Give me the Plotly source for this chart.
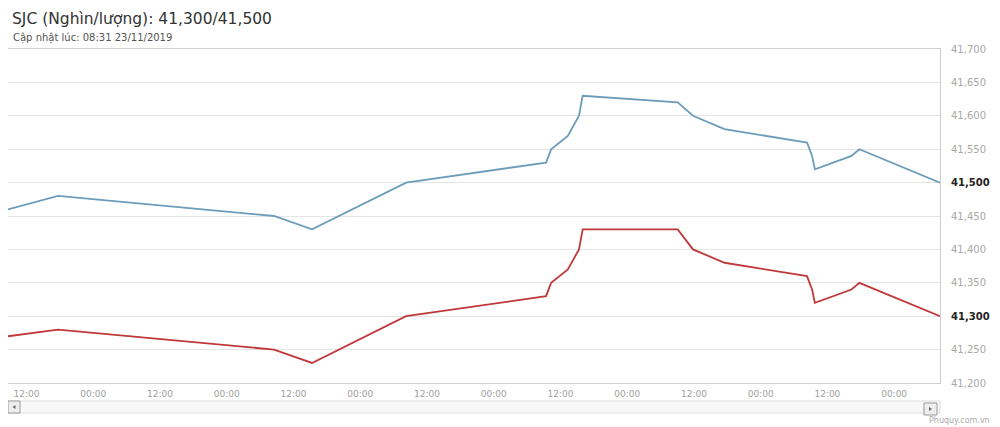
import plotly.graph_objects as go

times = ["2019-11-16 08:40", "2019-11-16 17:40", "2019-11-18 08:30", "2019-11-18 15:20",
         "2019-11-19 08:15", "2019-11-20 09:25", "2019-11-20 10:20", "2019-11-20 13:20",
         "2019-11-20 15:20", "2019-11-20 16:00", "2019-11-21 09:05", "2019-11-21 11:50",
         "2019-11-21 17:30", "2019-11-22 08:20", "2019-11-22 09:15", "2019-11-22 09:45",
         "2019-11-22 16:20", "2019-11-22 17:45", "2019-11-23 08:15"]
sell = [41460, 41480, 41450, 41430, 41500, 41530, 41550, 41570, 41600, 41630,
        41620, 41600, 41580, 41560, 41540, 41520, 41540, 41550, 41500]
buy = [41270, 41280, 41250, 41230, 41300, 41330, 41350, 41370, 41400, 41430,
       41430, 41400, 41380, 41360, 41340, 41320, 41340, 41350, 41300]

y_ticks = list(range(41200, 41701, 50))
highlight = {41300, 41500}
y_text = []
for v in y_ticks:
    s = f"{v:,}"
    if v in highlight:
        y_text.append(f"<span style='color:#222'><b>{s}</b></span>")
    else:
        y_text.append(s)

title = "SJC (Nghìn/lượng): 41,300/41,500"
subtitle = "Cập nhật lúc: 08:31 23/11/2019"
credit = "Phuquy.com.vn"

# the page body has an 8px margin, so the figure starts at page (8, 8)
OFF = 8
PAGE_W, PAGE_H = 1000, 427
P_LEFT, P_RIGHT, P_TOP, P_BOTTOM = 8, 940, 49, 383   # plot area in page pixels
W, H = PAGE_W - OFF, PAGE_H - OFF
L = P_LEFT - OFF
R = PAGE_W - P_RIGHT
T = P_TOP - OFF
B = PAGE_H - P_BOTTOM
PW, PH = P_RIGHT - P_LEFT, P_BOTTOM - P_TOP


def px(x):
    return (x - P_LEFT) / PW


def py(y):
    return (P_BOTTOM - y) / PH


fig = go.Figure()
fig.add_trace(go.Scatter(x=times, y=sell, mode="lines",
                         line=dict(color="#6b9dba", width=1.8), hoverinfo="x+y"))
fig.add_trace(go.Scatter(x=times, y=buy, mode="lines",
                         line=dict(color="#c0393a", width=1.8), hoverinfo="x+y"))

fig.update_layout(
    width=W, height=H,
    margin=dict(l=L, r=R, t=T, b=B, autoexpand=False),
    paper_bgcolor="white", plot_bgcolor="white",
    showlegend=False,
    font=dict(family="DejaVu Sans", color="#999999", size=9),
    xaxis=dict(
        type="date",
        range=["2019-11-16 08:40", "2019-11-23 08:15"],
        tick0="2019-11-16 12:00", dtick=12 * 3600 * 1000,
        tickformat="%H:%M",
        showgrid=False, zeroline=False,
        showline=True, linecolor="#cfcfcf", linewidth=1, mirror=True,
        ticks="", ticklabelstandoff=2,
        tickfont=dict(size=9, color="#a0a0a0"),
    ),
    yaxis=dict(
        side="right",
        range=[41200, 41700],
        tickvals=y_ticks, ticktext=y_text,
        showgrid=True, gridcolor="#e4e4e4", gridwidth=1,
        zeroline=False,
        showline=True, linecolor="#cfcfcf", linewidth=1, mirror=True,
        ticks="", ticklabelstandoff=8,
        tickfont=dict(size=10, color="#a8a8a8"),
    ),
)

shapes = [
    # scrollbar track
    dict(type="rect", xref="paper", yref="paper",
         x0=px(8), x1=px(940), y0=py(413), y1=py(401),
         fillcolor="#f8f8f8", line=dict(color="#dddddd", width=1), layer="above"),
    # left button
    dict(type="rect", xref="paper", yref="paper",
         x0=px(8), x1=px(20), y0=py(413), y1=py(401),
         fillcolor="#eeeeee", line=dict(color="#999999", width=1), layer="above"),
    # right button
    dict(type="rect", xref="paper", yref="paper",
         x0=px(924), x1=px(937), y0=py(415), y1=py(403),
         fillcolor="#eeeeee", line=dict(color="#999999", width=1), layer="above"),
    # left arrow
    dict(type="path", xref="paper", yref="paper",
         path=f"M {px(15.5)},{py(405)} L {px(12.5)},{py(407)} L {px(15.5)},{py(409)} Z",
         fillcolor="#666666", line=dict(width=0), layer="above"),
    # right arrow
    dict(type="path", xref="paper", yref="paper",
         path=f"M {px(929)},{py(407)} L {px(932)},{py(409)} L {px(929)},{py(411)} Z",
         fillcolor="#666666", line=dict(width=0), layer="above"),
]
fig.update_layout(shapes=shapes)

fig.add_annotation(text=title, xref="paper", yref="paper", x=px(10), y=py(19),
                   xanchor="left", yanchor="middle", showarrow=False,
                   font=dict(family="DejaVu Sans", size=15.5, color="#333333"))
fig.add_annotation(text=subtitle, xref="paper", yref="paper", x=px(11), y=py(38),
                   xanchor="left", yanchor="middle", showarrow=False,
                   font=dict(family="DejaVu Sans", size=10, color="#555555"))
fig.add_annotation(text=credit, xref="paper", yref="paper", x=px(992), y=py(420),
                   xanchor="right", yanchor="middle", showarrow=False,
                   font=dict(family="DejaVu Sans", size=8, color="#aaaaaa"))

fig.write_html("out.html")
